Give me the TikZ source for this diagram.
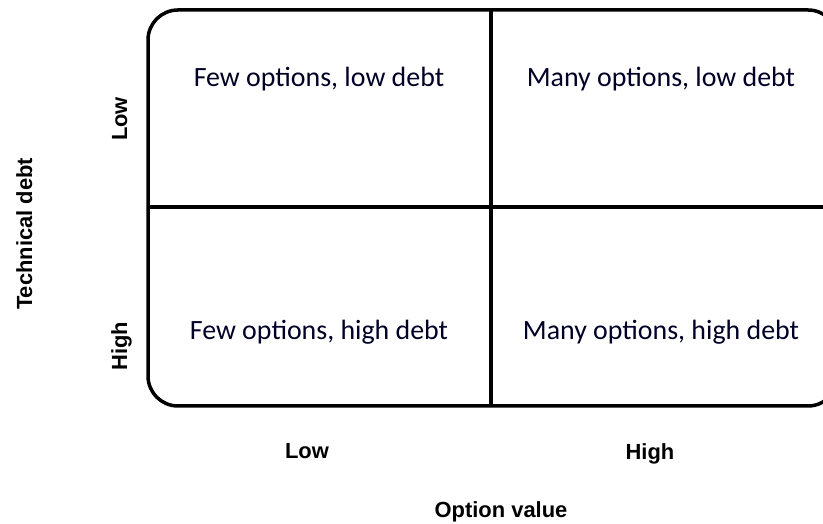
\documentclass[tikz,border=0pt]{standalone}
\usepackage{fontspec}
\setmainfont{Carlito}
\newfontfamily\axisfont{Liberation Sans}
\usetikzlibrary{positioning}

\tikzset{
  cell/.style={anchor=base, font=\fontsize{28}{34}\selectfont, text=black!85!blue},
  axis/.style={anchor=base, font=\axisfont\bfseries\fontsize{22}{26}\selectfont},
  frame/.style={draw, line width=3.5bp, rounded corners=30bp}
}

\begin{document}
\begin{tikzpicture}[x=1bp,y=1bp]
  \useasboundingbox (0,0) rectangle (823,524);
  % box corners
  \coordinate (sw) at (148,118);
  \coordinate (ne) at (838,514);
  \coordinate (top) at (491,514);
  \coordinate (bot) at (491,118);
  \coordinate (left) at (148,317);
  \coordinate (right) at (838,317);
  \draw[frame] (sw) rectangle (ne);
  \draw[line width=3.5bp] (top) -- (bot);
  \draw[line width=3.5bp] (left) -- (right);

  % quadrants
  \node[cell] (fewlow) at (319,437) {Few options, low debt};
  \node[cell] (manylow) at (661,437) {Many options, low debt};
  \node[cell] (fewhigh) at (319,184) {Few options, high debt};
  \node[cell] (manyhigh) at (661,184) {Many options, high debt};

  % axes
  \node[axis] (xlow) at (307,65) {Low};
  \node[axis] (xhigh) at (650,64) {High};
  \node[axis] (xlabel) at (501,6) {Option value};
  \node[axis, rotate=90] (ylow) at (127,405) {Low};
  \node[axis, rotate=90] (yhigh) at (127,178) {High};
  \node[axis, rotate=90] (ylabel) at (32,290) {Technical debt};
\end{tikzpicture}
\end{document}
